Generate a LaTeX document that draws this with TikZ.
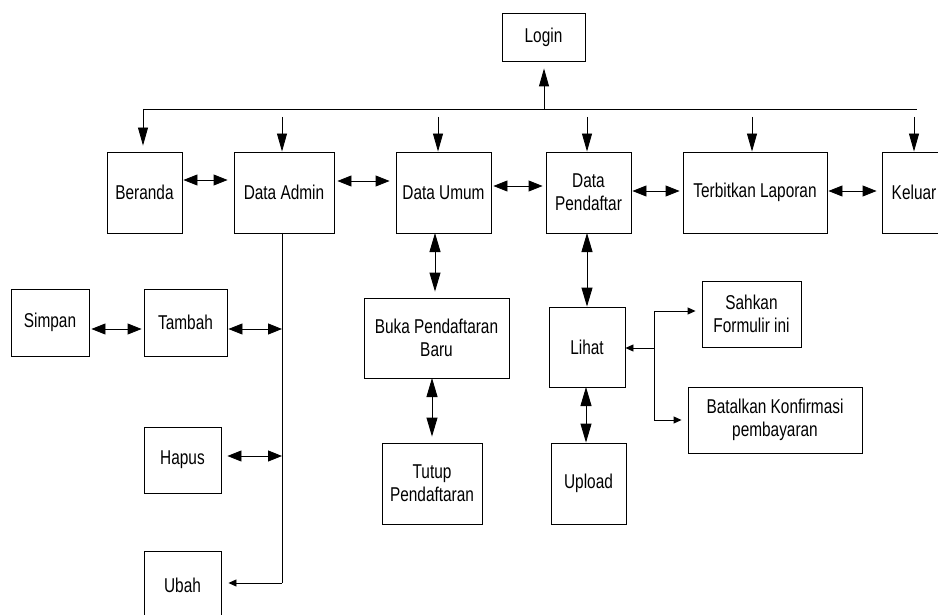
\documentclass[tikz,border=0pt]{standalone}
\usepackage{fontspec}
\setmainfont[FakeStretch=0.77]{Liberation Sans}
\usetikzlibrary{arrows.meta,calc}
\begin{document}
\begin{tikzpicture}[x=1pt,y=-1pt,line width=0.9pt,
  box/.style={draw,rectangle,inner sep=0pt,align=center,font=\fontsize{20}{23}\selectfont},
  dbl/.style={{Triangle[length=14pt,width=11pt]}-{Triangle[length=14pt,width=11pt]}},
  vdbl/.style={{Triangle[length=19pt,width=11pt]}-{Triangle[length=19pt,width=11pt]}},
  down/.style={-{Triangle[length=18pt,width=10pt]}},
  small/.style={-{Triangle[length=8pt,width=7pt]}}]
\useasboundingbox (0,0) rectangle (938,615);
\clip (0,0) rectangle (938,615);
% nodes
\node[box,minimum width=83pt,minimum height=48pt] (login) at (543.5,37) {Login};
\node[box,minimum width=75pt,minimum height=81pt] (beranda) at (144.5,192.5) {Beranda};
\node[box,minimum width=100pt,minimum height=81pt] (admin) at (284,192.5) {Data Admin};
\node[box,minimum width=95pt,minimum height=81pt] (umum) at (443.5,192.5) {Data Umum};
\node[box,minimum width=85pt,minimum height=81pt] (pendaftar) at (588.5,192.5) {Data\\Pendaftar};
\node[box,minimum width=144pt,minimum height=81pt] (terbitkan) at (755,192.5) {Terbitkan Laporan};
\node[box,minimum width=64pt,minimum height=81pt] (keluar) at (914,192.5) {Keluar};
\node[box,minimum width=78pt,minimum height=67pt] (simpan) at (50,322.5) {Simpan};
\node[box,minimum width=83pt,minimum height=67pt] (tambah) at (185.5,322.5) {Tambah};
\node[box,minimum width=77pt,minimum height=66pt] (hapus) at (182.5,460) {Hapus};
\node[box,minimum width=77pt,minimum height=68pt] (ubah) at (182.5,585) {Ubah};
\node[box,minimum width=145pt,minimum height=80pt] (buka) at (436.5,338) {Buka Pendaftaran\\Baru};
\node[box,minimum width=100pt,minimum height=81pt] (tutup) at (432,483.5) {Tutup\\Pendaftaran};
\node[box,minimum width=76pt,minimum height=80pt] (lihat) at (587,347) {Lihat};
\node[box,minimum width=75pt,minimum height=81pt] (upload) at (588.5,483.5) {Upload};
\node[box,minimum width=99pt,minimum height=66pt] (sahkan) at (751.5,314) {Sahkan\\Formulir ini};
\node[box,minimum width=174pt,minimum height=66pt] (batalkan) at (775,420) {Batalkan Konfirmasi\\pembayaran};
% bus
\coordinate (busL) at (143,109);
\coordinate (busR) at (917,109);
\coordinate (busLogin) at (544,109);
\draw (busL) -- (busR);
\draw[down,shorten >=7pt] (busLogin) -- (busLogin |- login.south);
\draw[down,shorten >=6pt] (busL) -- (busL |- beranda.north);
\coordinate (ta) at (282,117);
\coordinate (tu) at (438,117);
\coordinate (tp) at (587,117);
\coordinate (tt) at (752,117);
\coordinate (tk) at (914,117);
\draw[down] (ta) -- (ta |- admin.north);
\draw[down] (tu) -- (tu |- umum.north);
\draw[down] (tp) -- (tp |- pendaftar.north);
\draw[down] (tt) -- (tt |- terbitkan.north);
\draw[down] (tk) -- (tk |- keluar.north);
% horizontal links
\draw[dbl,shorten <=1pt,shorten >=6pt] ($(beranda.east)+(0,-12.5)$) -- ($(admin.west)+(0,-12.5)$);
\draw[dbl,shorten <=3pt,shorten >=6pt] ($(admin.east)+(0,-11.5)$) -- ($(umum.west)+(0,-11.5)$);
\draw[dbl,shorten <=2pt,shorten >=3pt] ($(umum.east)+(0,-6.5)$) -- ($(pendaftar.west)+(0,-6.5)$);
\draw[dbl,shorten <=1pt,shorten >=3pt] ($(pendaftar.east)+(0,-1.5)$) -- ($(terbitkan.west)+(0,-1.5)$);
\draw[dbl,shorten <=1pt,shorten >=5pt] ($(terbitkan.east)+(0,-1.5)$) -- ($(keluar.west)+(0,-1.5)$);
% vertical links
\coordinate (vu) at (435,233);
\draw[vdbl,shorten >=6pt] (vu) -- (vu |- buka.north);
\coordinate (vb) at (432,378);
\draw[vdbl,shorten >=6pt] (vb) -- (vb |- tutup.north);
\coordinate (vp) at (587,233);
\draw[vdbl] (vp) -- (vp |- lihat.north);
\coordinate (vl) at (586,387);
\draw[vdbl] (vl) -- (vl |- upload.north);
% admin tree
\coordinate (at) at (282,233);
\coordinate (tb) at (282,329);
\coordinate (hb) at (282,456);
\coordinate (ub) at (282,583);
\draw (at) -- (ub);
\draw[small,shorten >=7pt] (ub) -- (ubah.east |- ub);
\draw[dbl,shorten <=1pt] (tambah.east |- tb) -- (tb);
\draw[dbl,shorten <=6pt] (hapus.east |- hb) -- (hb);
\draw[dbl,shorten <=2pt,shorten >=2pt] (simpan.east |- tb) -- (tambah.west |- tb);
% lihat branch
\coordinate (bj) at (654,348);
\coordinate (bs) at (654,311);
\coordinate (bb) at (654,420);
\draw (bs) -- (bb);
\draw[small] (bj) -- (lihat.east |- bj);
\draw[small,shorten >=6pt] (bs) -- (sahkan.west |- bs);
\draw[small,shorten >=6pt] (bb) -- (batalkan.west |- bb);
\end{tikzpicture}
\end{document}
